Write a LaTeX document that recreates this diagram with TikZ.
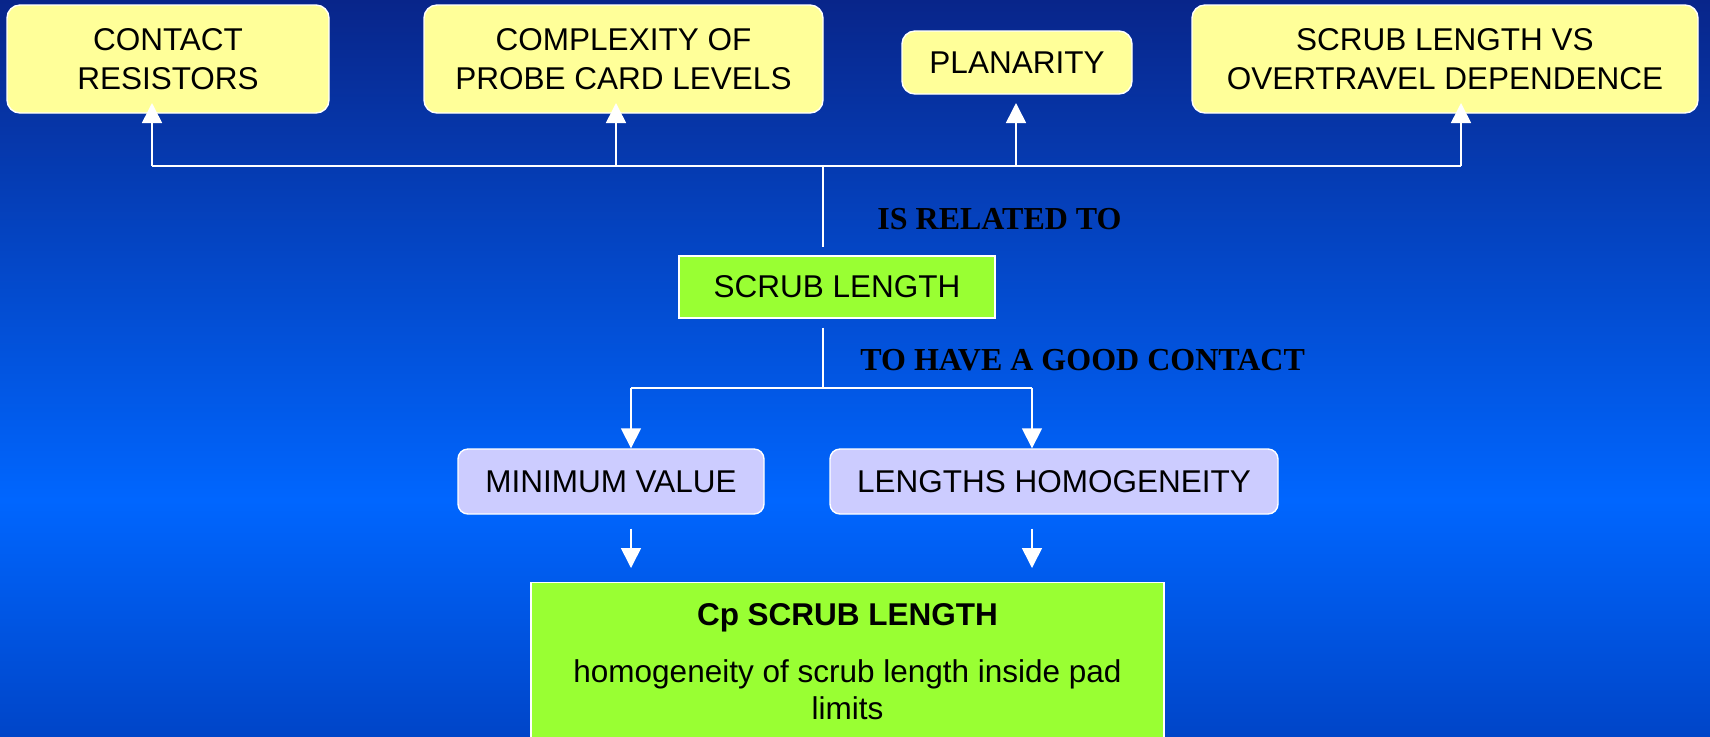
\documentclass[tikz,border=0pt]{standalone}
\usepackage{fontspec}
\setmainfont{Liberation Sans}
\newfontfamily\labelfont{Liberation Serif}
\usetikzlibrary{arrows.meta}
\definecolor{boxyellow}{HTML}{FFFF99}
\definecolor{boxgreen}{HTML}{99FF33}
\definecolor{boxlilac}{HTML}{CCCCFF}
\definecolor{bgtop}{HTML}{08258A}
\definecolor{bgmid}{HTML}{0066FF}
\definecolor{bgbot}{HTML}{0045C8}

\begin{document}
\begin{tikzpicture}[x=0.5pt, y=-0.5pt,
  box/.style={draw=white, line width=0.7pt, align=center, inner sep=0pt,
    font=\fontsize{15.75}{19.5}\selectfont},
  yellowbox/.style={box, fill=boxyellow, rounded corners=6.5pt},
  greenbox/.style={box, fill=boxgreen},
  lilacbox/.style={box, fill=boxlilac, rounded corners=5pt},
  wire/.style={draw=white, line width=0.8pt},
  arr/.style={wire, -{Triangle[width=10pt, length=10pt]}},
  relation/.style={anchor=base west, inner sep=0pt, font=\labelfont\bfseries\fontsize{16}{19}\selectfont}]
  \useasboundingbox (0,0) rectangle (1710,736);
  \shade[top color=bgtop, bottom color=bgmid] (0,0) rectangle (1710,500);
  \shade[top color=bgmid, bottom color=bgbot] (0,500) rectangle (1710,736);

  % top row
  \node[yellowbox, minimum width=161pt, minimum height=54pt] (contact) at (168,59) {CONTACT\\RESISTORS};
  \node[yellowbox, minimum width=199.5pt, minimum height=54pt] (complexity) at (623.5,59) {COMPLEXITY OF\\PROBE CARD LEVELS};
  \node[yellowbox, minimum width=115pt, minimum height=31.5pt] (planarity) at (1017,62.5) {PLANARITY};
  \node[yellowbox, minimum width=253pt, minimum height=54pt] (overtravel) at (1445,59) {SCRUB LENGTH VS\\OVERTRAVEL DEPENDENCE};

  % middle
  \node[greenbox, minimum width=158pt, minimum height=31pt] (scrub) at (837,287) {SCRUB LENGTH};
  \node[relation] (related) at (877,229) {IS RELATED TO};
  \node[relation] (goodcontact) at (860,370) {TO HAVE A GOOD CONTACT};
  \node[lilacbox, minimum width=153pt, minimum height=32.5pt] (minval) at (611,481.5) {MINIMUM VALUE};
  \node[lilacbox, minimum width=224pt, minimum height=32.5pt] (homog) at (1054,481.5) {LENGTHS HOMOGENEITY};

  % bottom
  \node[greenbox, anchor=north, minimum width=316.5pt, inner ysep=10.5pt, text depth=70pt,
    font=\fontsize{15.75}{18.5}\selectfont] (cp) at (847.5,582)
    {\textbf{Cp SCRUB LENGTH}\\[10pt]homogeneity of scrub length inside pad\\limits};

  \coordinate (hub) at (823,166);
  \coordinate (fork) at (823,388);
  \coordinate (b1) at (152,166);
  \coordinate (b2) at (616,166);
  \coordinate (b3) at (1016,166);
  \coordinate (b4) at (1461,166);
  \coordinate (tips) at (0,103);
  \coordinate (dl) at (631,388);
  \coordinate (dr) at (1032,388);

  \draw[wire] (b1) -- (b4);
  \foreach \b in {b1,b2,b3,b4}
    \draw[arr] (\b) -- (\b |- tips);
  \draw[wire, shorten >=4pt] (hub) -- (hub |- scrub.north);
  \draw[wire, shorten <=4.5pt] (hub |- scrub.south) -- (fork);
  \draw[wire] (dl) -- (dr);
  \draw[arr] (dl) -- (dl |- minval.north);
  \draw[arr] (dr) -- (dr |- homog.north);
  \draw[arr, shorten <=7pt, shorten >=7pt] (dl |- minval.south) -- (dl |- cp.north);
  \draw[arr, shorten <=7pt, shorten >=7pt] (dr |- homog.south) -- (dr |- cp.north);
\end{tikzpicture}
\end{document}
